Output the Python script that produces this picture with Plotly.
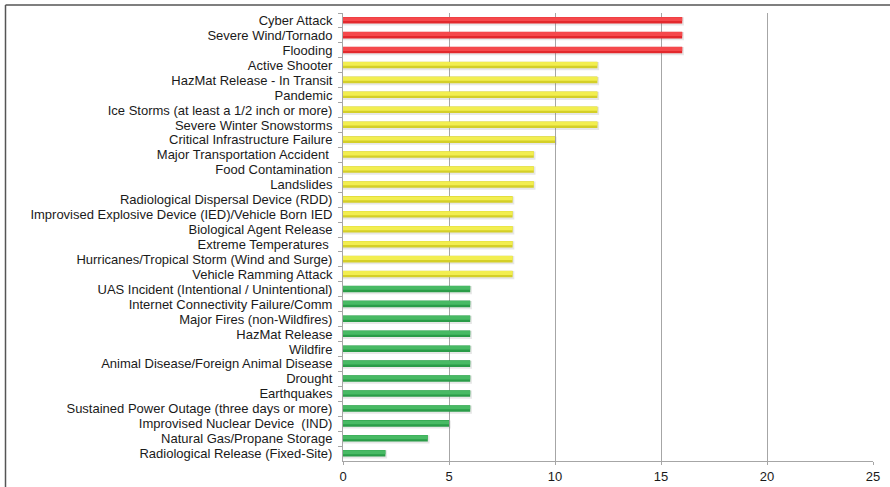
import plotly.graph_objects as go

categories = [
    "Cyber Attack",
    "Severe Wind/Tornado",
    "Flooding",
    "Active Shooter",
    "HazMat Release - In Transit",
    "Pandemic",
    "Ice Storms (at least a 1/2 inch or more)",
    "Severe Winter Snowstorms",
    "Critical Infrastructure Failure",
    "Major Transportation Accident\u00a0",
    "Food Contamination",
    "Landslides",
    "Radiological Dispersal Device (RDD)",
    "Improvised Explosive Device (IED)/Vehicle Born IED",
    "Biological Agent Release",
    "Extreme Temperatures\u00a0",
    "Hurricanes/Tropical Storm (Wind and Surge)",
    "Vehicle Ramming Attack",
    "UAS Incident (Intentional / Unintentional)",
    "Internet Connectivity Failure/Comm",
    "Major Fires (non-Wildfires)",
    "HazMat Release",
    "Wildfire",
    "Animal Disease/Foreign Animal Disease",
    "Drought",
    "Earthquakes",
    "Sustained Power Outage (three days or more)",
    "Improvised Nuclear Device \u00a0(IND)",
    "Natural Gas/Propane Storage",
    "Radiological Release (Fixed-Site)",
]

scores = [16, 16, 16, 12, 12, 12, 12, 12, 10, 9, 9, 9, 8, 8, 8, 8, 8, 8,
          6, 6, 6, 6, 6, 6, 6, 6, 6, 5, 4, 2]

x_ticks = [0, 5, 10, 15, 20, 25]


def tier(v):
    if v >= 16:
        return "high"
    if v > 6:
        return "mid"
    return "low"


base_col = {"high": "#E3282C", "mid": "#D4CF28", "low": "#2A9C48"}
light_col = {"high": "#F5494C", "mid": "#F2EE50", "low": "#48BA64"}
shadow_col = "rgba(120,120,120,0.18)"

tiers = [tier(v) for v in scores]

fig = go.Figure()

# soft shadow
fig.add_trace(go.Bar(
    y=categories, x=[v + 0.08 for v in scores], orientation="h",
    width=0.55, offset=-0.22,
    marker=dict(color=shadow_col, line=dict(width=0)),
    hoverinfo="skip", showlegend=False,
))
# main bar (darker edge)
fig.add_trace(go.Bar(
    y=categories, x=scores, orientation="h",
    width=0.44, offset=-0.24,
    marker=dict(color=[base_col[t] for t in tiers], line=dict(width=0)),
    showlegend=False,
))
# highlight
fig.add_trace(go.Bar(
    y=categories, x=scores, orientation="h",
    width=0.26, offset=-0.22,
    marker=dict(color=[light_col[t] for t in tiers], line=dict(width=0)),
    hoverinfo="skip", showlegend=False,
))

fx = -343 / 530 + 5.5 / 530
fy = 1 + 8 / 448

fig.update_layout(
    width=890, height=487,
    margin=dict(l=343, r=17, t=13, b=26),
    paper_bgcolor="white", plot_bgcolor="white",
    barmode="overlay",
    font=dict(family="Liberation Sans, Arial, sans-serif", size=13, color="#1a1a1a"),
    showlegend=False,
    xaxis=dict(
        range=[0, 25], tickvals=x_ticks, ticktext=[str(t) for t in x_ticks],
        showgrid=True, gridcolor="#A6A6A6", gridwidth=1,
        showline=True, linecolor="#A6A6A6", linewidth=1,
        ticks="outside", ticklen=3, tickcolor="#A6A6A6",
        zeroline=False, fixedrange=True, automargin=False,
        ticklabelstandoff=0,
        tickfont=dict(size=13, color="#1a1a1a"),
    ),
    yaxis=dict(
        type="category", autorange="reversed",
        categoryorder="array", categoryarray=categories,
        tickmode="linear", tick0=0, dtick=1,
        tickson="boundaries", ticks="outside", ticklen=4, tickcolor="#A6A6A6",
        showline=True, linecolor="#A6A6A6", linewidth=1,
        showgrid=False, zeroline=False, fixedrange=True, automargin=False,
        ticklabelstandoff=7,
        tickfont=dict(size=13, color="#1a1a1a"),
    ),
    shapes=[
        dict(type="line", xref="paper", yref="paper",
             x0=fx, x1=1.2, y0=fy, y1=fy,
             line=dict(color="#555555", width=1.5)),
        dict(type="line", xref="paper", yref="paper",
             x0=fx, x1=fx, y0=-0.2, y1=fy,
             line=dict(color="#555555", width=1.5)),
    ],
)

fig.write_html("out.html")
